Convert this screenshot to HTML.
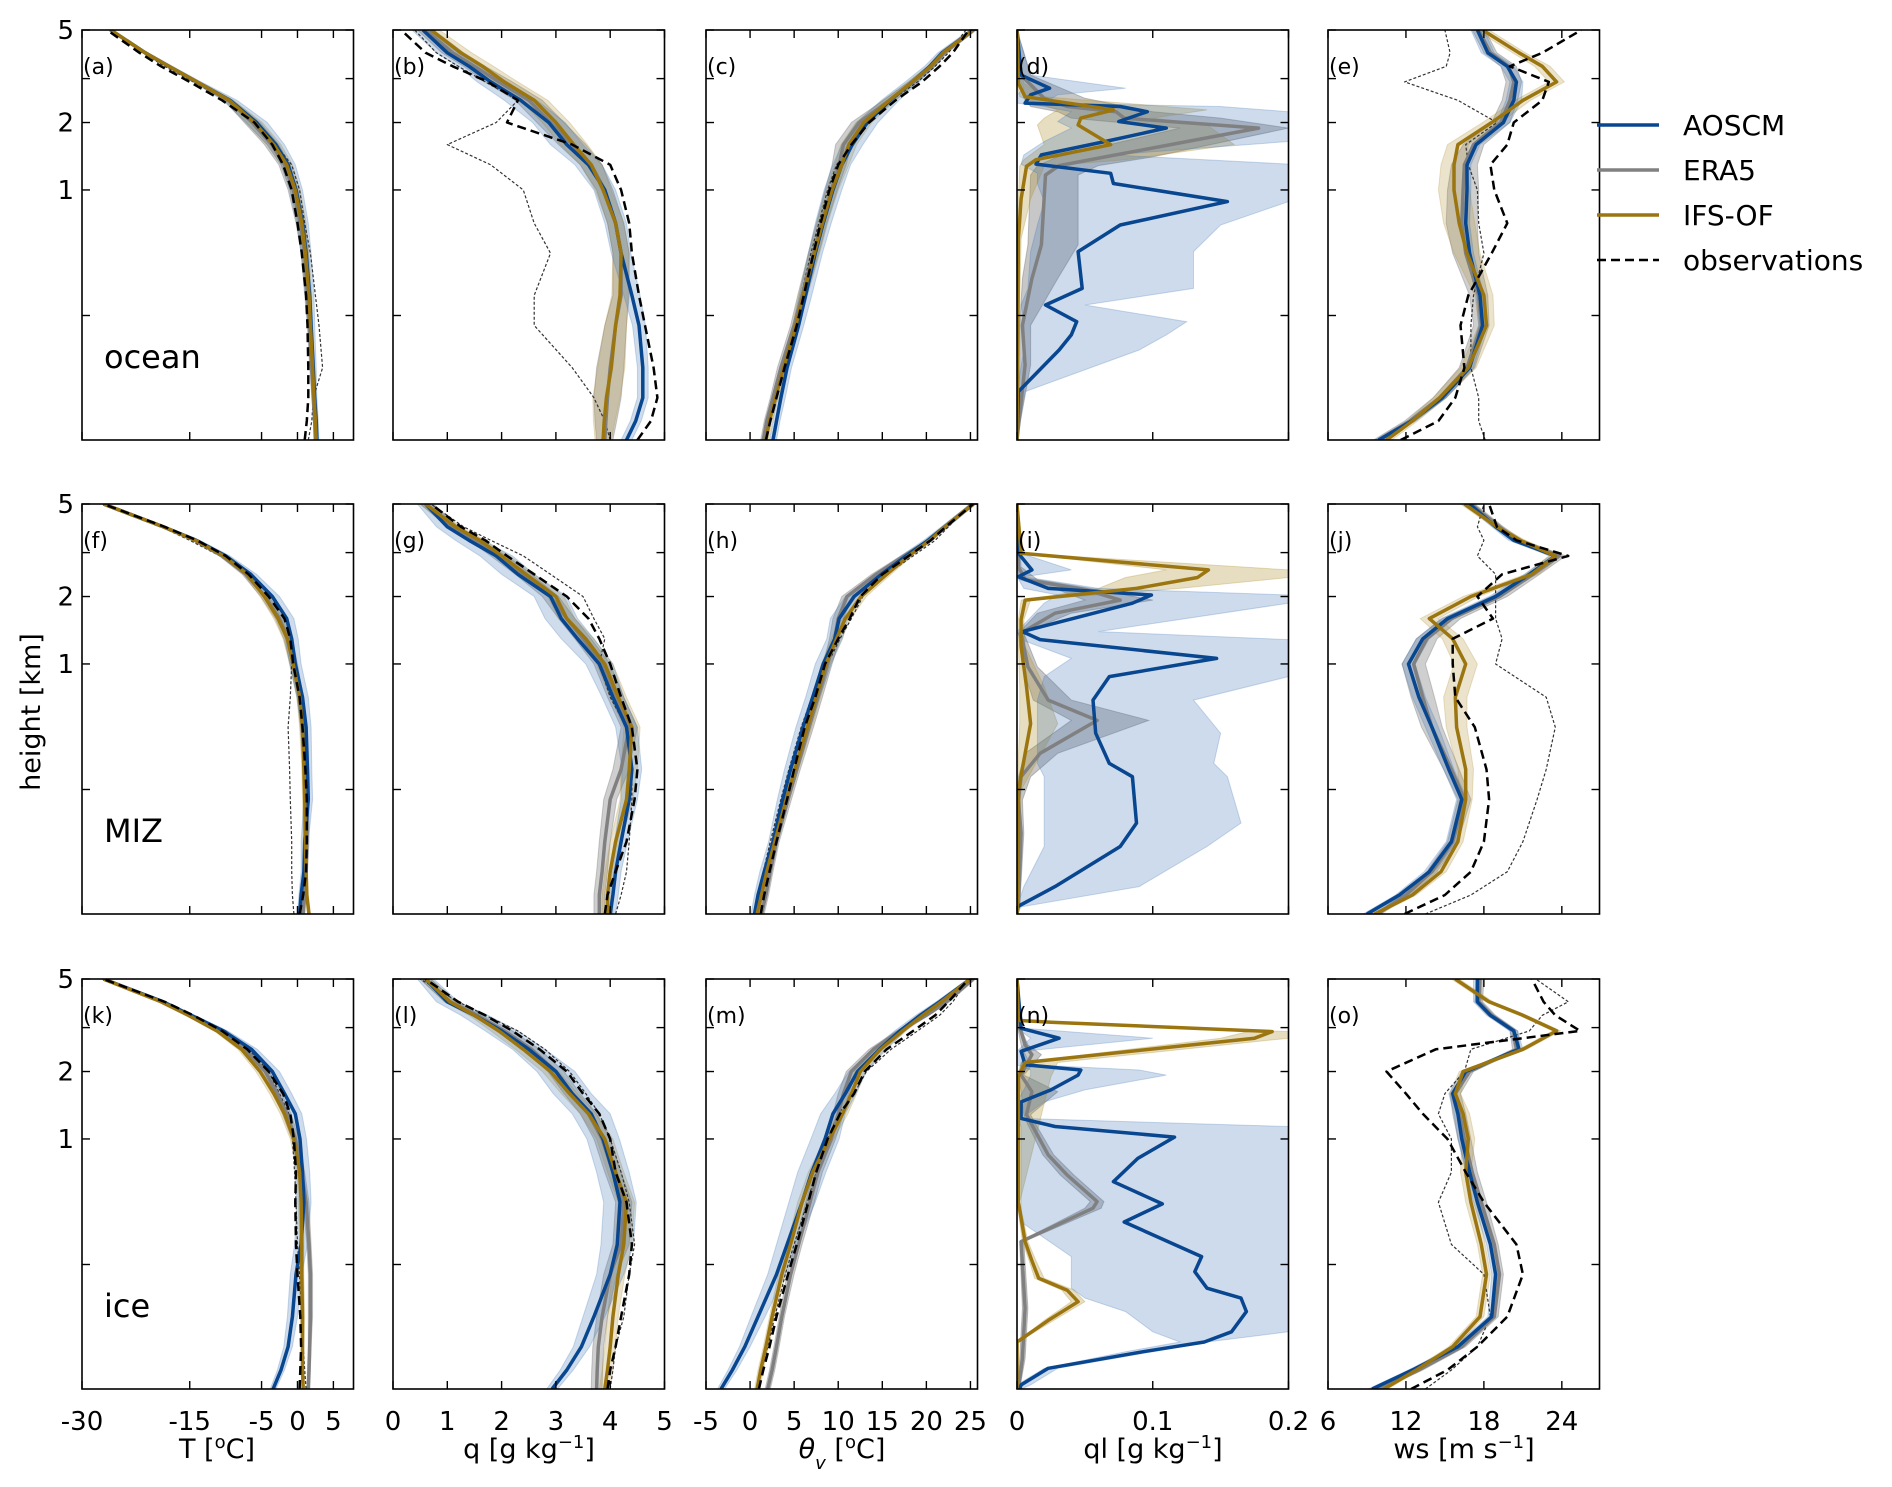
<!DOCTYPE html>
<html><head><meta charset="utf-8">
<style>
html,body{margin:0;padding:0;background:#fff;}
svg{display:block;font-family:"DejaVu Sans","Liberation Sans",sans-serif;}
</style></head>
<body>
<svg id="chart" width="1892" height="1487" viewBox="0 0 1892 1487" xmlns="http://www.w3.org/2000/svg">
<rect x="0" y="0" width="1892" height="1487" fill="#fff"/>
<g id="panels"></g>
<text x="40" y="712" font-size="27" text-anchor="middle" transform="rotate(-90 40 712)">height [km]</text>
<g>
 <line x1="1597" y1="125" x2="1659" y2="125" stroke="#08468f" stroke-width="3.5"/>
 <text x="1683" y="135" font-size="28">AOSCM</text>
 <line x1="1597" y1="170" x2="1659" y2="170" stroke="#808080" stroke-width="3.5"/>
 <text x="1683" y="180" font-size="28">ERA5</text>
 <line x1="1597" y1="215" x2="1659" y2="215" stroke="#9b7510" stroke-width="3.5"/>
 <text x="1683" y="225" font-size="28">IFS-OF</text>
 <line x1="1597" y1="260" x2="1659" y2="260" stroke="#000" stroke-width="2.5" stroke-dasharray="9,5"/>
 <text x="1683" y="270" font-size="28">observations</text>
</g>
</svg>
<script>
// ---- common height levels (km) ----
const H = [0,0.02,0.05,0.1,0.2,0.3,0.5,0.7,1,1.3,1.6,2,2.5,3,3.5,4,5];
const yTicks = [5,3.1,2,1,0.23];
const yTickLabels = ["5","","2","1",""];
// ---- x ticks ----
const tTicks = [-30,-15,-5,0,5];
const qTicks = [0,1,2,3,4,5];
const thTicks = [-5,0,5,10,15,20,25];
const qlTicks = [0,0.1,0.2];
const qlTickLabels = ["0","0.1","0.2"];
const wsTicks = [6,12,18,24];

// ===== (a) ocean T =====
const a_aoscm = [2.7,2.6,2.4,2.2,1.9,1.7,1.2,0.7,-0.2,-1.3,-3,-5.7,-9.4,-14,-17.9,-21.2,-26];
const a_era5  = [2.5,2.4,2.2,2.0,1.7,1.4,1.0,0.4,-0.6,-1.8,-3.6,-6.3,-9.6,-14,-17.9,-21.2,-26];
const a_ifs   = [2.6,2.5,2.3,2.1,1.8,1.6,1.1,0.6,-0.3,-1.5,-3.3,-6,-9.5,-14,-17.9,-21.2,-26];
const a_obs   = [1.0,1.3,1.5,1.5,1.4,1.2,0.6,0.0,-0.8,-2,-3.5,-6,-10.5,-15,-19,-22,-26.5];
const a_obs2  = [1.5,2,2.2,3.5,3.0,2.5,1.8,1.0,0.3,-0.8,-3,-5.8,-9.8,-14.5,-18.5,-21.5,-26.3];
const a_sdA = [0.3,0.3,0.3,0.4,0.5,0.6,0.7,0.8,0.9,1.0,1.2,1.5,1.0,0.6,0.5,0.4,0.3];
const a_sdM = [0.2,0.2,0.2,0.3,0.3,0.4,0.5,0.6,0.7,0.8,1.0,1.1,0.6,0.4,0.3,0.3,0.2];
// ===== (b) ocean q =====
const b_aoscm = [4.3,4.47,4.6,4.6,4.53,4.4,4.2,4.1,3.9,3.6,3.2,2.87,2.35,1.8,1.4,1.0,0.55];
const b_era5  = [3.9,3.92,3.95,4.0,4.1,4.2,4.2,4.1,3.9,3.65,3.3,2.9,2.5,1.95,1.5,1.1,0.6];
const b_ifs   = [3.87,3.89,3.93,4.02,4.1,4.18,4.2,4.1,3.87,3.65,3.33,3.0,2.6,2.05,1.65,1.25,0.7];
const b_obs   = [4.5,4.75,4.87,4.8,4.64,4.53,4.4,4.35,4.2,4.0,3.3,2.1,2.3,1.75,1.1,0.6,0.15];
const b_obs2  = [4.0,3.9,3.7,3.3,2.6,2.6,2.9,2.6,2.4,1.8,1.0,1.9,2.3,1.7,1.2,0.8,0.4];
const b_sdA = [0.1,0.1,0.1,0.1,0.12,0.15,0.18,0.2,0.2,0.25,0.3,0.3,0.3,0.25,0.2,0.2,0.2];
const b_sdM = [0.15,0.2,0.25,0.25,0.2,0.15,0.15,0.15,0.15,0.2,0.25,0.25,0.25,0.25,0.2,0.2,0.15];
// ===== (c) ocean theta_v =====
const c_aoscm = [2.6,3.0,3.5,4.2,5.5,6.3,7.4,8.3,9.4,10.4,11.6,13.3,15.9,18.4,20.4,21.8,25.3];
const c_era5  = [1.5,1.9,2.6,3.5,5,5.9,7.2,8.1,9.2,10.1,10.6,12.4,15.8,18.5,20.6,22,25.3];
const c_ifs   = [1.8,2.2,2.9,3.8,5.2,6.0,7.3,8.2,9.3,10.4,11.2,12.9,15.8,18.4,20.5,21.9,25.3];
const c_obs   = [1.8,2.3,3.0,3.9,5.3,6.1,7.2,8.0,9.0,10.0,11.5,13.5,16.5,19.5,21.5,23.0,24.8];
const c_obs2  = [1.5,2.0,2.7,3.7,5.0,5.8,6.9,7.8,8.8,9.8,11.5,13.5,16.0,19.0,21.0,22.5,24.5];
const c_sdA = [0.4,0.4,0.5,0.5,0.6,0.7,0.8,0.9,1.0,1.0,1.2,1.2,1.0,0.8,0.6,0.5,0.4];
const c_sdM = [0.3,0.3,0.3,0.4,0.4,0.5,0.6,0.6,0.7,0.8,0.9,0.9,0.7,0.5,0.4,0.4,0.3];
// ===== (d) ocean ql =====
const d_aoscm_h = [0,0.059,0.137,0.174,0.211,0.265,0.328,0.509,0.686,0.884,1.07,1.19,1.31,1.44,1.65,1.89,2.02,2.23,2.35,2.43,2.64,2.82,3.21,5];
const d_aoscm   = [0,0.001,0.031,0.04,0.044,0.021,0.048,0.045,0.076,0.155,0.071,0.069,0.014,0.018,0.065,0.11,0.075,0.096,0.076,0.006,0.01,0.024,0.003,0];
const d_aoscm_hi= [0,0.006,0.09,0.11,0.125,0.05,0.13,0.13,0.15,0.2,0.2,0.2,0.2,0.07,0.2,0.2,0.2,0.2,0.15,0.02,0.03,0.08,0.01,0];
const d_aoscm_lo= [0,0,0.005,0.005,0.005,0.003,0.008,0.01,0.015,0.02,0.015,0.015,0.003,0.005,0.02,0.04,0.03,0.04,0.02,0,0,0.005,0,0];
const d_era5_h  = [0,0.105,0.2,0.37,0.55,1.17,1.29,1.41,1.89,2.09,2.23,2.35,2.55,3.21,5];
const d_era5    = [0,0.006,0.004,0.011,0.018,0.021,0.031,0.065,0.178,0.079,0.073,0.037,0.02,0.003,0];
const d_era5_hi = [0,0.01,0.01,0.03,0.045,0.045,0.06,0.1,0.2,0.15,0.1,0.08,0.05,0.01,0];
const d_era5_lo = [0,0.002,0.002,0.004,0.008,0.01,0.015,0.03,0.12,0.04,0.03,0.01,0.005,0,0];
const d_ifs_h   = [0,0.59,0.91,1.28,1.37,1.6,1.95,2.09,2.27,2.59,2.96,5];
const d_ifs     = [0,0.001,0.003,0.007,0.014,0.069,0.045,0.047,0.071,0.006,0.001,0];
const d_ifs_hi  = [0,0.003,0.01,0.02,0.08,0.16,0.14,0.1,0.14,0.02,0.005,0];
const d_ifs_lo  = [0,0,0.001,0.002,0.005,0.02,0.015,0.02,0.03,0.002,0,0];
// ===== (e) ocean ws =====
const e_aoscm = [9.9,12.45,14.8,16.9,17.9,17.7,16.9,16.6,16.7,16.7,17.4,19.5,20.3,20.5,19.8,18.3,17.5];
const e_era5  = [9.9,12.3,14.6,16.7,17.8,17.6,16.6,16.3,16.4,16.5,17.2,19.3,20.0,20.3,19.9,18.5,17.6];
const e_ifs   = [10.5,12.5,14.6,16.8,18.2,18.0,16.7,16.1,15.7,15.7,16.0,18.6,21.0,23.6,22.5,20.7,17.9];
const e_obs   = [11.6,14.5,15.8,16.5,16.2,16.8,18.6,19.8,18.8,18.5,19.8,20.3,22.5,23.0,20.0,22.5,25.5];
const e_obs2  = [18.1,17.6,17.6,17.0,17.0,17.2,18.0,17.6,17.5,16.8,16.6,19.0,16.0,11.9,15.1,15.4,15.0];
const e_sdA = [0.3,0.3,0.3,0.3,0.3,0.3,0.3,0.3,0.3,0.3,0.3,0.5,0.6,0.5,0.5,0.5,0.5];
const e_sdM = [0.4,0.4,0.5,0.6,0.6,0.7,1.0,1.2,1.2,1.0,0.8,0.7,0.6,0.6,0.6,0.5,0.5];
// ===== (f) MIZ T =====
const f_aoscm = [0.3,0.5,0.9,1.0,1.5,1.4,1.2,0.7,-0.3,-0.8,-1.5,-3.5,-6.5,-10.0,-14.1,-18.7,-27.0];
const f_era5  = [0.8,1.0,1.2,1.3,1.3,1.1,0.8,0.4,-0.5,-1.3,-2.5,-4.5,-7.2,-10.5,-14.3,-18.7,-27.0];
const f_ifs   = [1.6,1.3,1.2,1.1,1.0,0.9,0.7,0.3,-0.6,-1.4,-2.7,-4.6,-7.0,-10.3,-14.2,-18.7,-27.0];
const f_obs   = [0.3,0.8,1.2,1.3,1.3,1.1,0.7,0.3,-0.6,-1.0,-1.8,-4.0,-6.8,-10.0,-14.0,-18.5,-27.0];
const f_obs2  = [-0.5,-0.7,-0.8,-0.8,-1.0,-1.1,-1.3,-1.0,-0.8,-1.3,-2.5,-4.4,-7.0,-10.8,-15.0,-19.0,-27.0];
const f_sdA = [0.3,0.3,0.4,0.5,0.6,0.6,0.7,0.8,0.8,0.9,1.0,1.0,0.8,0.6,0.5,0.4,0.3];
const f_sdM = [0.2,0.2,0.2,0.3,0.3,0.3,0.4,0.4,0.5,0.6,0.6,0.6,0.5,0.4,0.3,0.3,0.2];
// ===== (g) MIZ q =====
const g_aoscm = [4.0,4.05,4.1,4.2,4.35,4.4,4.3,4.05,3.8,3.4,3.1,2.9,2.3,1.9,1.4,1.0,0.6];
const g_era5  = [3.8,3.8,3.85,3.9,4.0,4.2,4.35,4.1,3.85,3.5,3.2,2.9,2.4,1.95,1.5,1.1,0.6];
const g_ifs   = [3.95,3.95,4.0,4.1,4.3,4.35,4.4,4.15,3.9,3.55,3.2,3.0,2.45,2.0,1.6,1.15,0.6];
const g_obs   = [3.9,3.95,4.1,4.3,4.45,4.5,4.4,4.2,4.0,3.8,3.6,3.2,2.6,2.1,1.7,1.25,0.7];
const g_obs2  = [4.1,4.2,4.3,4.35,4.4,4.4,4.3,4.0,3.8,3.9,3.7,3.5,2.9,2.4,1.8,1.3,0.7];
const g_sdA = [0.1,0.1,0.1,0.12,0.15,0.18,0.2,0.2,0.25,0.3,0.3,0.3,0.3,0.3,0.25,0.2,0.15];
const g_sdM = [0.1,0.1,0.1,0.1,0.12,0.15,0.15,0.15,0.15,0.15,0.15,0.15,0.15,0.15,0.1,0.1,0.1];
// ===== (h) MIZ theta_v =====
const h_aoscm = [0.5,0.9,1.6,2.6,3.7,4.6,6.0,7.1,8.3,9.6,10.1,11.8,14.9,17.7,20.2,22.1,25.3];
const h_era5  = [1.3,1.8,2.3,3.0,4.3,5.3,6.7,7.7,8.8,9.6,10.0,11.0,14.3,17.5,20.3,22.1,25.3];
const h_ifs   = [0.8,1.3,1.9,2.8,4.1,5.1,6.5,7.5,8.6,9.8,10.8,12.6,15.5,18.0,20.4,22.1,25.3];
const h_obs   = [1.2,1.6,2.2,3.0,4.2,5.0,6.2,7.4,8.5,10.0,11.3,12.5,15.0,18.0,20.5,22.2,25.3];
const h_obs2  = [0.5,0.9,1.5,2.3,3.5,4.4,5.8,7.0,8.8,10.2,11.5,12.8,15.5,18.5,21.0,22.5,25.0];
const h_sdA = [0.4,0.4,0.5,0.5,0.6,0.7,0.8,0.8,0.9,0.9,1.0,1.0,0.8,0.6,0.5,0.4,0.3];
const h_sdM = [0.3,0.3,0.3,0.3,0.4,0.4,0.5,0.5,0.5,0.6,0.6,0.6,0.5,0.4,0.3,0.3,0.3];
// ===== (i) MIZ ql =====
const i_aoscm_h = [0,0.007,0.03,0.091,0.139,0.273,0.324,0.466,0.678,0.874,1.06,1.29,1.4,1.87,2.03,2.17,2.44,2.61,3.08,5];
const i_aoscm   = [0,0,0.028,0.076,0.088,0.085,0.068,0.058,0.056,0.068,0.147,0.017,0.004,0.085,0.099,0.023,0.001,0.011,0.001,0];
const i_aoscm_hi= [0,0.003,0.09,0.14,0.165,0.155,0.145,0.15,0.13,0.2,0.2,0.2,0.06,0.2,0.2,0.06,0.005,0.04,0.003,0];
const i_aoscm_lo= [0,0,0.005,0.02,0.02,0.02,0.015,0.015,0.015,0.02,0.04,0.003,0,0.02,0.03,0.005,0,0,0,0];
const i_era5_h  = [0,0.007,0.117,0.198,0.273,0.367,0.54,0.678,0.97,1.38,1.69,1.93,2.14,2.37,2.69,5];
const i_era5    = [0,0.001,0.003,0.001,0.003,0.017,0.059,0.023,0.008,0.003,0.028,0.076,0.051,0.006,0.001,0];
const i_era5_hi = [0,0.002,0.005,0.004,0.01,0.03,0.097,0.04,0.015,0.005,0.04,0.1,0.06,0.015,0.003,0];
const i_era5_lo = [0,0,0.001,0,0.001,0.006,0.04,0.012,0.004,0.001,0.015,0.05,0.03,0.002,0,0];
const i_ifs_h   = [0,0.1,0.228,0.52,0.785,1.2,1.58,1.93,2.17,2.42,2.61,3.08,5];
const i_ifs     = [0,0.001,0.001,0.01,0.007,0.003,0.003,0.006,0.088,0.133,0.141,0.003,0];
const i_ifs_hi  = [0,0.002,0.003,0.03,0.02,0.006,0.005,0.01,0.12,0.2,0.2,0.005,0];
const i_ifs_lo  = [0,0,0,0.002,0.002,0.001,0.001,0.003,0.06,0.08,0.11,0.001,0];
// ===== (j) MIZ ws =====
const j_aoscm = [9.0,11.5,13.8,15.5,16.3,15.3,14.0,13.0,12.2,13.3,15.2,18.9,21.5,23.5,20.3,18.9,16.9];
const j_era5  = [9.8,12.0,14.0,15.6,16.5,15.5,14.0,13.3,12.6,13.6,15.5,19.2,21.8,23.8,20.6,19.2,17.0];
const j_ifs   = [9.6,12.5,14.7,16.0,16.6,16.6,15.9,15.8,16.6,15.6,13.8,17.0,21.7,23.5,20.8,19.0,16.5];
const j_obs   = [11.9,15.0,17.0,18.0,18.4,18.2,17.3,15.8,15.6,15.6,18.7,17.5,19.4,24.5,20.5,19.0,18.4];
const j_obs2  = [13.5,17.0,19.8,21.0,22.1,22.8,23.5,22.8,18.9,19.4,18.9,18.9,18.9,17.5,18.0,17.5,18.0];
const j_sdA = [0.3,0.3,0.4,0.4,0.4,0.4,0.5,0.5,0.5,0.5,0.5,0.5,0.4,0.4,0.4,0.3,0.3];
const j_sdM = [0.3,0.3,0.4,0.4,0.5,0.6,0.8,0.9,0.9,0.8,0.7,0.6,0.5,0.5,0.4,0.3,0.3];
// ===== (k) ice T =====
const k_aoscm = [-3.4,-2.3,-1.3,-0.7,-0.2,0.5,0.9,0.7,0.35,-0.3,-1.8,-3.5,-6.4,-10.3,-14.8,-18.7,-27];
const k_era5  = [1.5,1.6,1.7,1.8,1.8,1.6,1.2,0.6,-0.3,-1.5,-2.8,-4.5,-7.2,-10.8,-15.0,-18.8,-27];
const k_ifs   = [0.8,0.7,0.7,0.7,0.6,0.6,0.5,0.3,-0.5,-1.8,-3.3,-5.2,-7.8,-11.2,-15.2,-19.0,-27];
const k_obs   = [0.3,0.4,0.5,0.4,0.0,-0.2,-0.3,-0.2,-0.5,-1.0,-2.0,-4.0,-7.0,-10.5,-14.5,-18.5,-27];
const k_obs2  = [1.2,1.0,0.8,0.6,0.3,0.0,-0.2,-0.4,-0.7,-1.2,-2.5,-4.0,-6.8,-10.0,-14.5,-18.5,-27];
const k_sdA = [0.4,0.5,0.6,0.7,0.8,0.9,1.0,1.0,0.9,0.9,1.0,1.0,0.8,0.6,0.5,0.4,0.3];
const k_sdM = [0.2,0.2,0.2,0.3,0.3,0.3,0.4,0.4,0.5,0.6,0.6,0.6,0.5,0.4,0.3,0.3,0.2];
// ===== (l) ice q =====
const l_aoscm = [2.93,3.2,3.47,3.7,4.0,4.13,4.18,4.05,3.87,3.65,3.3,3.0,2.5,2.0,1.5,1.0,0.6];
const l_era5  = [3.75,3.76,3.78,3.85,4.0,4.2,4.25,4.05,3.85,3.6,3.3,3.0,2.55,2.05,1.55,1.05,0.6];
const l_ifs   = [3.9,3.95,4.0,4.05,4.15,4.25,4.3,4.1,3.9,3.6,3.25,2.9,2.4,1.95,1.5,1.05,0.6];
const l_obs   = [3.95,4.0,4.1,4.2,4.35,4.4,4.3,4.1,4.0,3.8,3.5,3.2,2.7,2.2,1.7,1.2,0.6];
const l_obs2  = [4.0,4.05,4.1,4.25,4.35,4.45,4.35,4.2,4.0,3.8,3.55,3.25,2.8,2.3,1.7,1.2,0.5];
const l_sdA = [0.1,0.12,0.15,0.2,0.25,0.3,0.3,0.3,0.3,0.35,0.35,0.35,0.3,0.3,0.25,0.2,0.15];
const l_sdM = [0.1,0.1,0.1,0.1,0.12,0.15,0.15,0.15,0.15,0.15,0.15,0.15,0.15,0.15,0.1,0.1,0.1];
// ===== (m) ice theta_v =====
const m_aoscm = [-3.3,-2.0,-0.6,0.9,3.0,4.2,5.9,7.0,8.5,9.4,10.8,12.2,14.7,17.0,19.3,21.5,25];
const m_era5  = [2.0,2.5,3.0,3.6,4.6,5.5,6.8,7.7,9.2,10.0,10.6,11.5,14.0,17.0,20.0,22.3,25.3];
const m_ifs   = [0.8,1.2,1.8,2.5,3.6,4.6,5.9,7.1,9.0,10.5,11.5,12.5,14.8,17.3,19.6,21.7,25.0];
const m_obs   = [1.0,1.5,2.2,3.0,4.3,5.3,6.6,7.5,8.8,10.2,11.8,13.0,15.5,18.5,21.0,22.5,24.8];
const m_obs2  = [0.8,1.3,2.0,2.8,4.0,5.0,6.5,7.5,8.8,10.0,11.8,13.2,16.0,19.0,21.5,23.0,24.8];
const m_sdA = [0.4,0.5,0.6,0.8,1.0,1.2,1.5,1.6,1.6,1.4,1.2,1.0,0.8,0.6,0.5,0.4,0.3];
const m_sdM = [0.3,0.3,0.3,0.3,0.4,0.4,0.5,0.5,0.5,0.6,0.6,0.6,0.5,0.4,0.3,0.3,0.3];
// ===== (n) ice ql =====
const n_aoscm_h = [0,0.004,0.022,0.043,0.057,0.073,0.11,0.139,0.163,0.208,0.256,0.396,0.49,0.63,0.813,1.02,1.14,1.24,1.47,1.66,1.93,2.03,2.14,2.45,2.79,3.08,5];
const n_aoscm   = [0.002,0.003,0.023,0.093,0.138,0.158,0.169,0.165,0.14,0.131,0.136,0.079,0.107,0.071,0.089,0.116,0.028,0.003,0.003,0.025,0.045,0.047,0.006,0.003,0.031,0.003,0];
const n_aoscm_hi= [0.003,0.01,0.03,0.1,0.14,0.2,0.2,0.2,0.2,0.2,0.2,0.2,0.2,0.2,0.2,0.2,0.2,0.003,0.02,0.05,0.11,0.09,0.01,0.005,0.1,0.005,0];
const n_aoscm_lo= [0,0,0.02,0.08,0.12,0.1,0.08,0.05,0.04,0.04,0.04,0.003,0.003,0.003,0.003,0.003,0.003,0,0,0.005,0.01,0.01,0,0,0.01,0,0];
const n_era5_h  = [0,0.034,0.117,0.311,0.466,0.503,0.678,0.844,1.16,1.29,1.63,1.93,2.37,2.61,2.98,3.21,5];
const n_era5    = [0.001,0.004,0.006,0.003,0.056,0.059,0.037,0.023,0.011,0.007,0.011,0.003,0.011,0.006,0.003,0.001,0];
const n_era5_hi = [0.002,0.006,0.008,0.005,0.062,0.064,0.042,0.027,0.014,0.01,0.03,0.005,0.018,0.008,0.004,0.002,0];
const n_era5_lo = [0,0.002,0.004,0.002,0.05,0.054,0.032,0.019,0.008,0.005,0.003,0.001,0.005,0.003,0.001,0,0];
const n_ifs_h   = [0,0.057,0.093,0.131,0.158,0.189,0.242,0.311,0.5,1.9,2.19,2.79,2.98,3.27,3.33,5];
const n_ifs     = [0,0,0.023,0.045,0.037,0.016,0.011,0.006,0.001,0.001,0.006,0.175,0.188,0.025,0.001,0];
const n_ifs_hi  = [0,0.001,0.027,0.05,0.042,0.02,0.014,0.008,0.002,0.025,0.03,0.2,0.2,0.03,0.002,0];
const n_ifs_lo  = [0,0,0.02,0.04,0.033,0.013,0.009,0.004,0,0,0.003,0.15,0.17,0.02,0,0];
// ===== (o) ice ws =====
const o_aoscm = [9.4,12.5,16.0,18.6,18.9,18.5,17.5,16.9,16.3,16.0,15.6,16.6,20.7,20.3,18.5,17.5,17.5];
const o_era5  = [9.9,13.0,16.3,18.8,19.2,18.8,17.8,17.1,16.5,16.1,15.8,16.9,20.5,20.3,18.6,17.6,17.7];
const o_ifs   = [10.3,12.8,15.6,17.7,18.2,17.8,17.0,16.6,16.8,16.4,15.8,16.4,21.0,23.6,21.0,18.4,15.8];
const o_obs   = [12.4,15.2,17.5,19.8,21.0,20.5,18.0,16.6,15.2,13.3,12.0,10.5,14.3,25.4,23.5,22.6,21.7];
const o_obs2  = [13.5,15.5,17.5,18.5,18.0,15.5,14.5,15.5,15.5,14.5,15.0,16.5,17.0,21.5,22.5,24.5,22.0];
const o_sdA = [0.3,0.3,0.3,0.3,0.3,0.3,0.3,0.3,0.3,0.3,0.3,0.3,0.3,0.3,0.3,0.3,0.3];
const o_sdM = [0.3,0.3,0.3,0.3,0.3,0.3,0.4,0.4,0.5,0.5,0.4,0.3,0.3,0.3,0.3,0.3,0.3];

// ---------- layout ----------
const NS = 'http://www.w3.org/2000/svg';
const COLX = [82,393,706,1017,1328];
const ROWY = [30,504,979];
const PW = 271.5, PH = 410;
const BLUE='#08468f', GRAY='#808080', GOLD='#9b7510';
const root = document.getElementById('panels');

function el(tag, attrs, parent){
  const e = document.createElementNS(NS, tag);
  for (const k in attrs) e.setAttribute(k, attrs[k]);
  parent.appendChild(e);
  return e;
}
function yOf(h, top){ return top + PH - Math.log((h+0.1)/0.1)/Math.log(51)*PH; }

function addBand(g, hs, lo, hi, fill, xs, top, name){
  const pts = [];
  for (let i=0;i<hs.length;i++) pts.push(xs(hi[i]).toFixed(1)+','+yOf(hs[i],top).toFixed(1));
  for (let i=hs.length-1;i>=0;i--) pts.push(xs(lo[i]).toFixed(1)+','+yOf(hs[i],top).toFixed(1));
  const p = el('polygon',{points:pts.join(' '),fill:fill,stroke:fill,'stroke-width':1},g);
  
  
}
function addLine(g, hs, vs, color, w, dash, xs, top, name){
  const pts = hs.map((h,i)=>xs(vs[i]).toFixed(1)+','+yOf(h,top).toFixed(1));
  const attrs = {points:pts.join(' '),fill:'none',stroke:color,'stroke-width':w,'stroke-linejoin':'round'};
  if (dash) attrs['stroke-dasharray'] = dash;
  const p = el('polyline',attrs,g);
  
  
}
function sub(v, sd){ return v.map((x,i)=>x-sd[i]); }
function add(v, sd){ return v.map((x,i)=>x+sd[i]); }

function panel(cfg){
  const x0 = COLX[cfg.col], top = ROWY[cfg.row];
  const xs = v => x0 + (v-cfg.xmin)/(cfg.xmax-cfg.xmin)*PW;
  const g = el('g',{},root);
  
  
  const cid = 'clip'+cfg.letter;
  const cp = el('clipPath',{id:cid},g);
  el('rect',{x:x0,y:top,width:PW,height:PH},cp);
  const pg = el('g',{'clip-path':'url(#'+cid+')'},g);
  if (cfg.ql){
    addBand(pg, cfg.ql.eh, cfg.ql.elo, cfg.ql.ehi, 'rgba(95,95,95,0.35)', xs, top, 'era5-band');
    addBand(pg, cfg.ql.ih, cfg.ql.ilo, cfg.ql.ihi, 'rgba(175,145,50,0.3)', xs, top, 'ifs-band');
    addBand(pg, cfg.ql.ah, cfg.ql.alo, cfg.ql.ahi, 'rgba(60,115,180,0.26)', xs, top, 'aoscm-band');
    addLine(pg, cfg.ql.eh, cfg.ql.e, GRAY, 3.5, null, xs, top, 'era5-line');
    addLine(pg, cfg.ql.ah, cfg.ql.a, BLUE, 3.5, null, xs, top, 'aoscm-line');
    addLine(pg, cfg.ql.ih, cfg.ql.i, GOLD, 3.5, null, xs, top, 'ifs-line');
  } else {
    addBand(pg, H, sub(cfg.e,cfg.sdM), add(cfg.e,cfg.sdM), 'rgba(95,95,95,0.3)', xs, top, 'era5-band');
    addBand(pg, H, sub(cfg.i,cfg.sdM), add(cfg.i,cfg.sdM), 'rgba(175,145,50,0.25)', xs, top, 'ifs-band');
    addBand(pg, H, sub(cfg.a,cfg.sdA), add(cfg.a,cfg.sdA), 'rgba(60,115,180,0.25)', xs, top, 'aoscm-band');
    addLine(pg, H, cfg.o2, '#333', 1.2, '3,2', xs, top, 'observation-dotted-line');
    addLine(pg, H, cfg.e, GRAY, 3.5, null, xs, top, 'era5-line');
    addLine(pg, H, cfg.a, BLUE, 3.5, null, xs, top, 'aoscm-line');
    addLine(pg, H, cfg.i, GOLD, 3.5, null, xs, top, 'ifs-line');
    addLine(pg, H, cfg.o, '#000', 2.5, '9,5', xs, top, 'observation-dashed-line');
  }
  const fr = el('rect',{x:x0,y:top,width:PW,height:PH,fill:'none',stroke:'#000','stroke-width':1.6},g);
  
  
  yTicks.forEach((h,k)=>{
    const y = yOf(h,top);
    el('line',{x1:x0,y1:y,x2:x0+8,y2:y,stroke:'#000','stroke-width':1.4},g);
    el('line',{x1:x0+PW,y1:y,x2:x0+PW-8,y2:y,stroke:'#000','stroke-width':1.4},g);
    if (cfg.col===0 && yTickLabels[k]){
      const t = el('text',{x:x0-8,y:y+9,'font-size':26,'text-anchor':'end'},g);
      t.textContent = yTickLabels[k];
      
      
    }
  });
  cfg.xticks.forEach((v,k)=>{
    const x = xs(v);
    el('line',{x1:x,y1:top,x2:x,y2:top+8,stroke:'#000','stroke-width':1.4},g);
    el('line',{x1:x,y1:top+PH,x2:x,y2:top+PH-8,stroke:'#000','stroke-width':1.4},g);
    if (cfg.row===2){
      const t = el('text',{x:x,y:top+PH+41,'font-size':26,'text-anchor':'middle'},g);
      t.textContent = cfg.xlabels ? cfg.xlabels[k] : String(v);
      
      
    }
  });
  const lt = el('text',{x:x0+1,y:top+44,'font-size':22},g);
  lt.textContent = '('+cfg.letter+')';
  
  
  if (cfg.region){
    const rt = el('text',{x:x0+22,y:top+338,'font-size':32},g);
    rt.textContent = cfg.region;
    
    
  }
}

const T = {xmin:-30,xmax:7.8,xticks:tTicks};
const Q = {xmin:0,xmax:5,xticks:qTicks};
const TH = {xmin:-5,xmax:25.8,xticks:thTicks};
const QL = {xmin:0,xmax:0.2,xticks:qlTicks,xlabels:qlTickLabels};
const WS = {xmin:6,xmax:26.9,xticks:wsTicks};

panel(Object.assign({letter:'a',col:0,row:0,region:'ocean',a:a_aoscm,e:a_era5,i:a_ifs,o:a_obs,o2:a_obs2,sdA:a_sdA,sdM:a_sdM},T));
panel(Object.assign({letter:'b',col:1,row:0,a:b_aoscm,e:b_era5,i:b_ifs,o:b_obs,o2:b_obs2,sdA:b_sdA,sdM:b_sdM},Q));
panel(Object.assign({letter:'c',col:2,row:0,a:c_aoscm,e:c_era5,i:c_ifs,o:c_obs,o2:c_obs2,sdA:c_sdA,sdM:c_sdM},TH));
panel(Object.assign({letter:'d',col:3,row:0,ql:{ah:d_aoscm_h,a:d_aoscm,alo:d_aoscm_lo,ahi:d_aoscm_hi,eh:d_era5_h,e:d_era5,elo:d_era5_lo,ehi:d_era5_hi,ih:d_ifs_h,i:d_ifs,ilo:d_ifs_lo,ihi:d_ifs_hi}},QL));
panel(Object.assign({letter:'e',col:4,row:0,a:e_aoscm,e:e_era5,i:e_ifs,o:e_obs,o2:e_obs2,sdA:e_sdA,sdM:e_sdM},WS));
panel(Object.assign({letter:'f',col:0,row:1,region:'MIZ',a:f_aoscm,e:f_era5,i:f_ifs,o:f_obs,o2:f_obs2,sdA:f_sdA,sdM:f_sdM},T));
panel(Object.assign({letter:'g',col:1,row:1,a:g_aoscm,e:g_era5,i:g_ifs,o:g_obs,o2:g_obs2,sdA:g_sdA,sdM:g_sdM},Q));
panel(Object.assign({letter:'h',col:2,row:1,a:h_aoscm,e:h_era5,i:h_ifs,o:h_obs,o2:h_obs2,sdA:h_sdA,sdM:h_sdM},TH));
panel(Object.assign({letter:'i',col:3,row:1,ql:{ah:i_aoscm_h,a:i_aoscm,alo:i_aoscm_lo,ahi:i_aoscm_hi,eh:i_era5_h,e:i_era5,elo:i_era5_lo,ehi:i_era5_hi,ih:i_ifs_h,i:i_ifs,ilo:i_ifs_lo,ihi:i_ifs_hi}},QL));
panel(Object.assign({letter:'j',col:4,row:1,a:j_aoscm,e:j_era5,i:j_ifs,o:j_obs,o2:j_obs2,sdA:j_sdA,sdM:j_sdM},WS));
panel(Object.assign({letter:'k',col:0,row:2,region:'ice',a:k_aoscm,e:k_era5,i:k_ifs,o:k_obs,o2:k_obs2,sdA:k_sdA,sdM:k_sdM},T));
panel(Object.assign({letter:'l',col:1,row:2,a:l_aoscm,e:l_era5,i:l_ifs,o:l_obs,o2:l_obs2,sdA:l_sdA,sdM:l_sdM},Q));
panel(Object.assign({letter:'m',col:2,row:2,a:m_aoscm,e:m_era5,i:m_ifs,o:m_obs,o2:m_obs2,sdA:m_sdA,sdM:m_sdM},TH));
panel(Object.assign({letter:'n',col:3,row:2,ql:{ah:n_aoscm_h,a:n_aoscm,alo:n_aoscm_lo,ahi:n_aoscm_hi,eh:n_era5_h,e:n_era5,elo:n_era5_lo,ehi:n_era5_hi,ih:n_ifs_h,i:n_ifs,ilo:n_ifs_lo,ihi:n_ifs_hi}},QL));
panel(Object.assign({letter:'o',col:4,row:2,a:o_aoscm,e:o_era5,i:o_ifs,o:o_obs,o2:o_obs2,sdA:o_sdA,sdM:o_sdM},WS));

const svg = document.getElementById('chart');
const titles = [
  ['x-axis-title-t', 217, [['T [',0],['o',1],['C]',0]]],
  ['x-axis-title-q', 529, [['q [g kg',0],['−1',1],[']',0]]],
  ['x-axis-title-thetav', 842, [['θ',2],['v',3],[' [',0],['o',1],['C]',0]]],
  ['x-axis-title-ql', 1153, [['ql [g kg',0],['−1',1],[']',0]]],
  ['x-axis-title-ws', 1464, [['ws [m s',0],['−1',1],[']',0]]]
];
titles.forEach(tt=>{
  const t = el('text',{x:tt[1],y:1458,'font-size':27,'text-anchor':'middle'},svg);
  
  
  tt[2].forEach(p=>{
    const s = el('tspan',{},t);
    s.textContent = p[0];
    if (p[1]===1){ s.setAttribute('font-size','18'); s.setAttribute('baseline-shift','super'); }
    if (p[1]===2){ s.setAttribute('font-style','italic'); }
    if (p[1]===3){ s.setAttribute('font-size','18'); s.setAttribute('font-style','italic'); s.setAttribute('baseline-shift','sub'); }
  });
});
</script>
</body></html>
